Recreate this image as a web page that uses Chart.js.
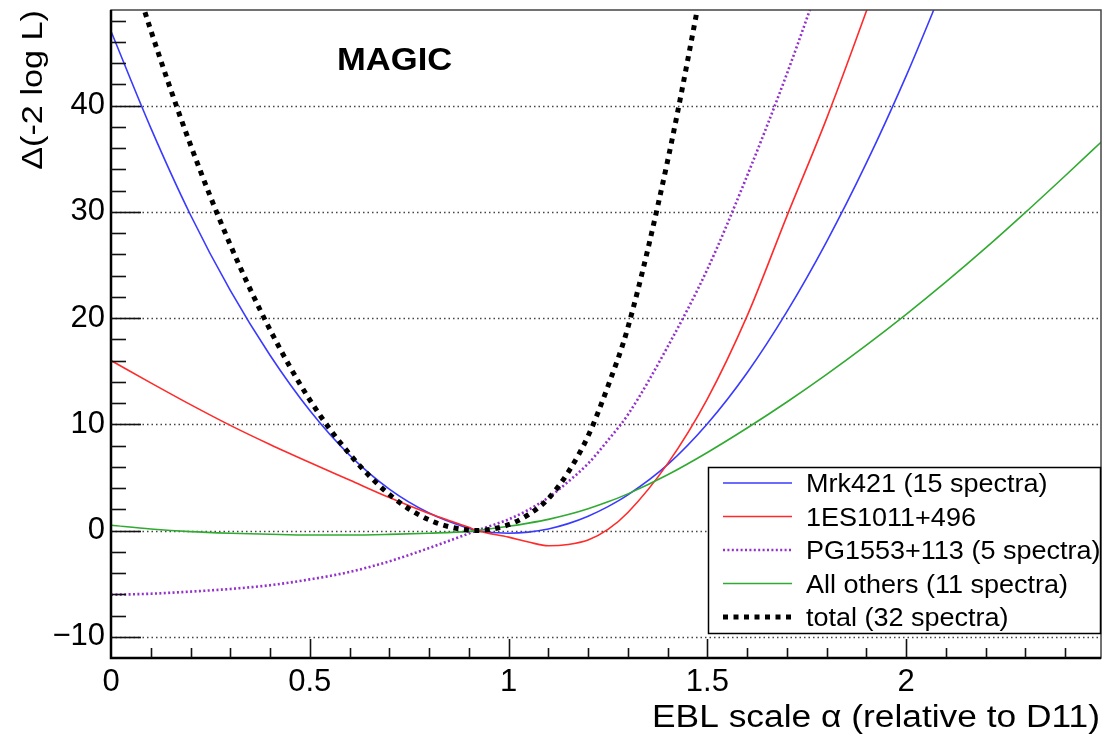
<!DOCTYPE html>
<html><head><meta charset="utf-8">
<script src="https://cdn.jsdelivr.net/npm/chart.js@4.4.1/dist/chart.umd.min.js"></script>
<style>html,body{margin:0;padding:0;background:#fff;} canvas{display:block;}</style>
</head><body>
<canvas id="c" width="1107" height="734"></canvas>
<script>
// ---- data ----
const alphaValues = [0,0.1,0.2,0.3,0.4,0.5,0.6,0.7,0.8,0.9,0.92,1.0,1.05,1.1,1.15,1.2,1.25,1.3,1.4,1.5,1.6,1.7,1.8,1.9,2.0,2.1,2.2,2.3,2.4,2.5];
const mrk421    = [47.0,37.9,29.7,22.6,16.5,11.3,7.1,3.9,1.65,0.2,0,-0.25,-0.15,0.15,0.65,1.35,2.25,3.35,6.2,10.05,14.85,20.6,27.2,34.6,42.8,51.8,null,null,null,null];
const es1011    = [16.0,13.9,11.85,9.9,8.1,6.4,4.75,3.1,1.6,0.3,0,-0.62,-1.08,-1.44,-1.32,-0.9,0.1,1.7,6.3,12.4,20.2,29.6,38.8,48.9,59.5,null,null,null,null,null];
const pg1553    = [-6.05,-5.95,-5.75,-5.5,-5.15,-4.6,-3.9,-2.9,-1.65,-0.28,0,1.05,1.95,3.1,4.6,6.3,8.5,10.9,17.3,24.6,33.4,43.0,53.5,null,null,null,null,null,null,null];
const allOthers = [0.5,0.15,-0.1,-0.25,-0.35,-0.42,-0.42,-0.36,-0.25,-0.08,0,0.4,0.7,1.05,1.5,2.05,2.7,3.45,5.25,7.35,9.65,12.1,14.7,17.45,20.35,23.4,26.6,29.95,33.4,36.9];
const total     = [59.2,47.1,36.3,26.9,18.9,12.3,7.2,3.4,1.0,0.03,0,0.55,1.5,3.0,5.5,8.9,13.6,19.1,34.8,54.0,null,null,null,null,null,null,null,null,null,null];
const seriesLabels = ['Mrk421 (15 spectra)','1ES1011+496','PG1553+113 (5 spectra)','All others (11 spectra)','total (32 spectra)'];
const xTickValues = [0,0.5,1,1.5,2];
const xTickLabels = ['0','0.5','1','1.5','2'];
const yTickValues = [-10,0,10,20,30,40];
const yTickLabels = ['\u221210','0','10','20','30','40'];
const xTitle = 'EBL scale \u03B1 (relative to D11)';
const yTitle = '\u0394(-2 log L)';
const plotLabel = 'MAGIC';

const FONT = '"Liberation Sans", Arial, sans-serif';
const pts = arr => alphaValues.map((a,i)=>({x:a, y:arr[i]}));

function stretchedText(ctx, text, x, y, font, align, sx, rot){
  ctx.save();
  ctx.translate(x,y);
  if (rot) ctx.rotate(rot);
  ctx.scale(sx,1);
  ctx.font = font; ctx.textAlign = align; ctx.textBaseline = 'alphabetic';
  ctx.fillStyle = '#000';
  ctx.fillText(text,0,0);
  ctx.restore();
}

const decor = {
  id:'decor',
  beforeDraw(chart){
    const ctx = chart.ctx; ctx.save(); ctx.fillStyle='#fff'; ctx.fillRect(0,0,chart.width,chart.height); ctx.restore();
  },
  beforeDatasetsDraw(chart){
    const {ctx, chartArea:a, scales:{y}} = chart;
    ctx.save(); ctx.strokeStyle='#444'; ctx.lineWidth=1.4; ctx.setLineDash([1.5,3]);
    yTickValues.forEach(v=>{
      const py = Math.round(y.getPixelForValue(v))+0.5;
      ctx.beginPath(); ctx.moveTo(a.left,py); ctx.lineTo(a.right,py); ctx.stroke();
    });
    ctx.restore();
  },
  afterDraw(chart){
    const {ctx, chartArea:a, scales:{x,y}} = chart;
    ctx.save();
    // frame
    ctx.strokeStyle='#444'; ctx.lineWidth=1.5;
    ctx.strokeRect(a.left, a.top, a.right-a.left, a.bottom-a.top);
    ctx.strokeStyle='#000'; ctx.lineWidth=2.5;
    ctx.beginPath(); ctx.moveTo(a.left, a.top); ctx.lineTo(a.left, a.bottom); ctx.lineTo(a.right, a.bottom); ctx.stroke();
    // ticks (inside)
    ctx.lineWidth=1.6; ctx.strokeStyle='#111';
    for (let v=-12; v<=49; v+=2){
      const py = Math.round(y.getPixelForValue(v))+0.5;
      if (py <= a.top+1 || py >= a.bottom-1) continue;
      const major = yTickValues.includes(v);
      ctx.beginPath(); ctx.moveTo(a.left, py); ctx.lineTo(a.left+(major?30:15), py); ctx.stroke();
    }
    for (let k=0; k<=24; k++){
      const v = k/10;
      const px = Math.round(x.getPixelForValue(v))+0.5;
      if (px <= a.left+1 || px >= a.right-1) continue;
      const major = (k%5===0);
      ctx.beginPath(); ctx.moveTo(px, a.bottom); ctx.lineTo(px, a.bottom-(major?19:10)); ctx.stroke();
    }
    // titles
    stretchedText(ctx, xTitle, 1100, 727, '31px '+FONT, 'right', 1.14, 0);
    stretchedText(ctx, yTitle, 42, 10, '29px '+FONT, 'right', 1.18, -Math.PI/2);
    stretchedText(ctx, plotLabel, 337, 70, 'bold 32px '+FONT, 'left', 1.08, 0);
    // legend
    const L = {x0:708, y0:467, x1:1101, y1:634};
    ctx.fillStyle='#fff'; ctx.fillRect(L.x0, L.y0, L.x1-L.x0, L.y1-L.y0);
    ctx.strokeStyle='#000'; ctx.lineWidth=1.5; ctx.setLineDash([]);
    ctx.strokeRect(L.x0+0.5, L.y0+0.5, L.x1-L.x0-1, L.y1-L.y0-1);
    chart.data.datasets.forEach((ds,i)=>{
      const cy = 483 + i*33.5;
      ctx.save();
      ctx.strokeStyle = ds.borderColor; ctx.lineWidth = ds.borderWidth;
      ctx.setLineDash(ds.borderDash || []);
      ctx.beginPath(); ctx.moveTo(723, cy); ctx.lineTo(792, cy); ctx.stroke();
      ctx.restore();
      stretchedText(ctx, ds.label, 806, cy+9, '25px '+FONT, 'left', 1.08, 0);
    });
    ctx.restore();
  }
};

const noPad = s => { s.paddingTop = 0; s.paddingBottom = 0; s.paddingLeft = 0; s.paddingRight = 0; };
const common = {fill:false, pointRadius:0, cubicInterpolationMode:'monotone', clip:0, spanGaps:false};
new Chart(document.getElementById('c'), {
  type:'line',
  data:{ datasets:[
    {...common, label:seriesLabels[0], data:pts(mrk421),    borderColor:'#3a3aff', borderWidth:1.6, order:5},
    {...common, label:seriesLabels[1], data:pts(es1011),    borderColor:'#ff2a2a', borderWidth:1.6, order:4},
    {...common, label:seriesLabels[2], data:pts(pg1553),    borderColor:'#9430cc', borderWidth:2.6, borderDash:[2,2.4], order:3},
    {...common, label:seriesLabels[3], data:pts(allOthers), borderColor:'#30aa30', borderWidth:1.6, order:2},
    {...common, label:seriesLabels[4], data:pts(total),     borderColor:'#000000', borderWidth:5, borderDash:[5,5.5], order:1}
  ]},
  options:{
    responsive:false, animation:false, devicePixelRatio:1,
    layout:{padding:{left:0, top:10, right:6, bottom:0}},
    plugins:{legend:{display:false}, tooltip:{enabled:false}},
    scales:{
      x:{type:'linear', min:0, max:2.49,
         grid:{display:false, drawTicks:false}, border:{display:false},
         afterBuildTicks:s=>{ s.ticks = xTickValues.map(v=>({value:v})); },
         afterFit:s=>{ s.height = 76; noPad(s); },
         ticks:{autoSkip:false, maxRotation:0, padding:6, color:'#000', font:{family:FONT, size:31},
                callback:(v)=>xTickLabels[xTickValues.indexOf(v)]}},
      y:{type:'linear', min:-12, max:49,
         grid:{display:false, drawTicks:false}, border:{display:false},
         afterBuildTicks:s=>{ s.ticks = yTickValues.map(v=>({value:v})); },
         afterFit:s=>{ s.width = 111; noPad(s); },
         ticks:{autoSkip:false, padding:6, color:'#000', font:{family:FONT, size:31},
                callback:(v)=>yTickLabels[yTickValues.indexOf(v)]}}
    }
  },
  plugins:[decor]
});
</script>
</body></html>
